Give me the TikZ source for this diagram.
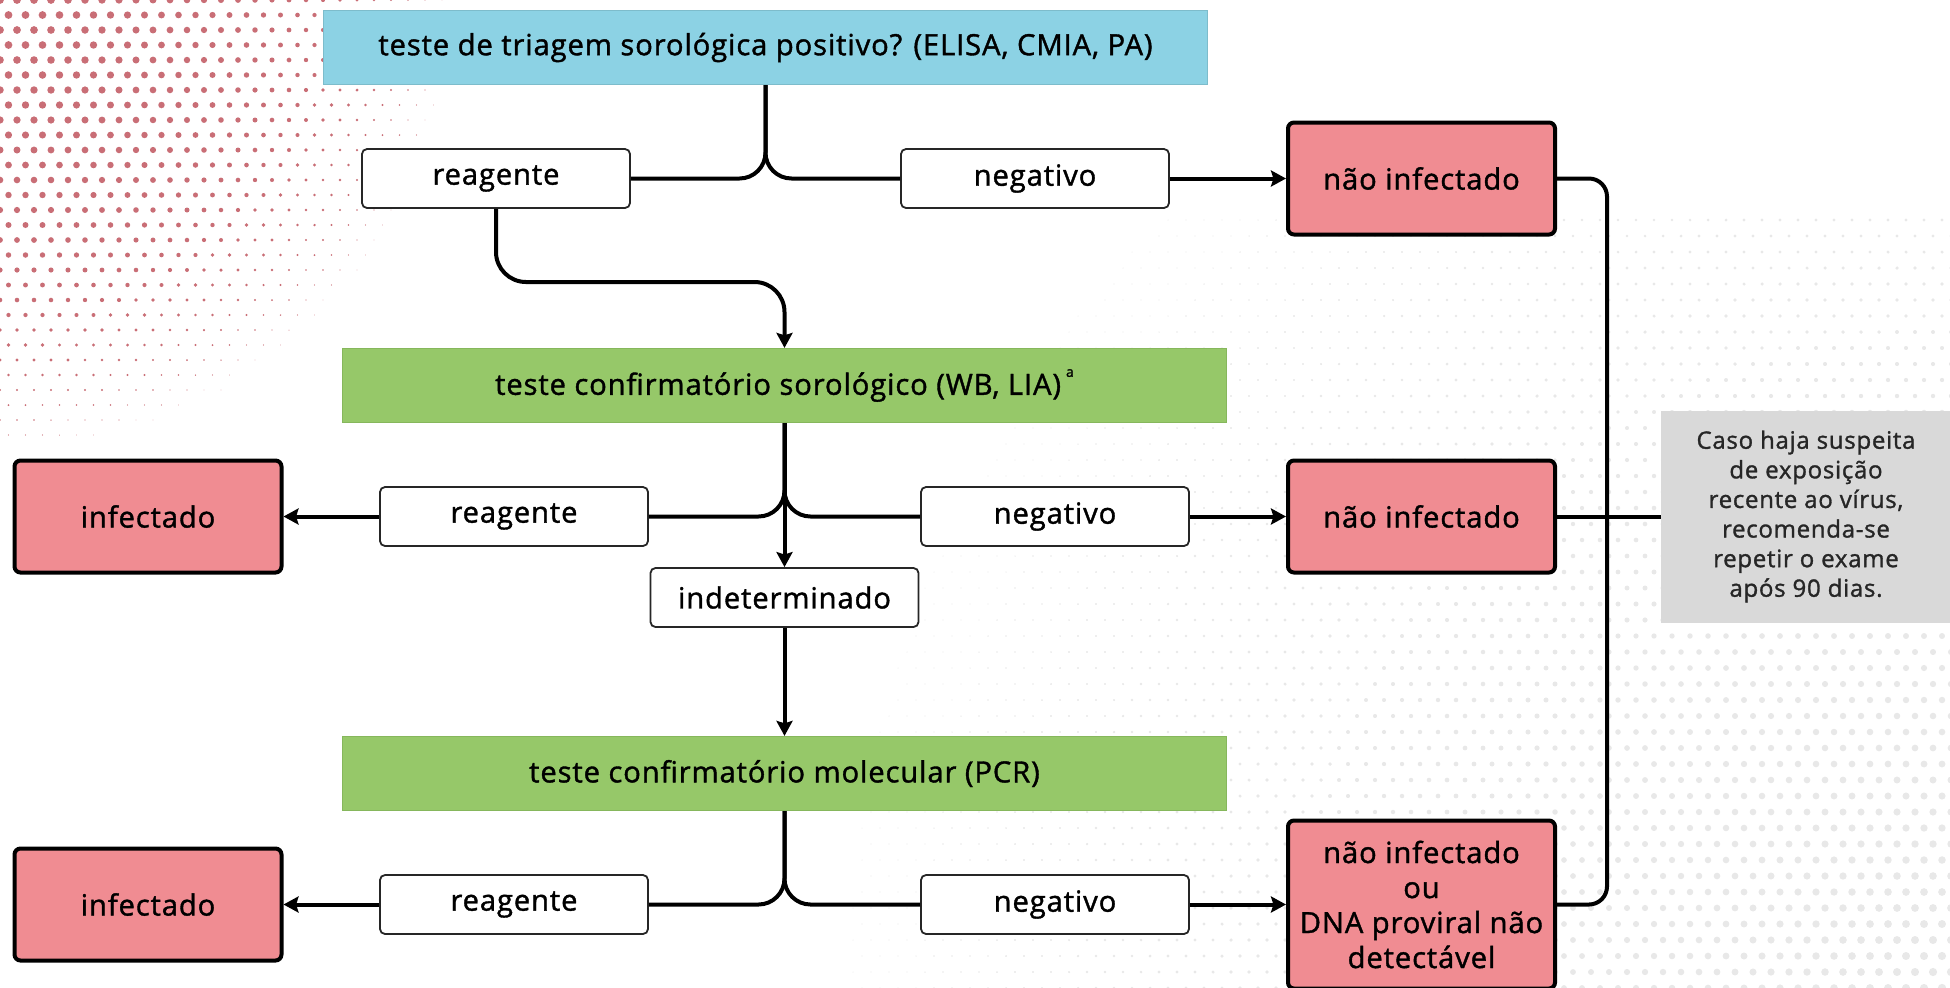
\documentclass[tikz,border=0pt]{standalone}
\usepackage{fontspec}
\setmainfont{Open Sans}[LetterSpace=3,UprightFeatures={FakeBold=1.3}]
\usetikzlibrary{arrows.meta}

\definecolor{triagefill}{HTML}{8CD2E4}
\definecolor{triageedge}{HTML}{7DBCCB}
\definecolor{conffill}{HTML}{96C869}
\definecolor{confedge}{HTML}{86B75C}
\definecolor{outfill}{HTML}{F08C92}
\definecolor{notefill}{HTML}{D9D9D9}
\definecolor{dotred}{HTML}{C96E76}
\definecolor{dotgray}{HTML}{E8E8E8}

\begin{document}
\begin{tikzpicture}[x=0.5pt,y=-0.5pt,
  labelfont/.style={font=\fontsize{14.6}{17.5}\selectfont},
  testbox/.style={labelfont, minimum width=442pt, minimum height=37pt, inner sep=0pt, line width=0.6pt},
  triagebox/.style={testbox, fill=triagefill, draw=triageedge},
  confbox/.style={testbox, fill=conffill, draw=confedge},
  answer/.style={labelfont, fill=white, draw=black!85, line width=0.9pt, rounded corners=2.5pt,
                 minimum width=134pt, minimum height=29.5pt, inner sep=0pt},
  outcome/.style={labelfont, fill=outfill, draw=black, line width=2pt, rounded corners=3pt,
                  minimum width=133.5pt, minimum height=56pt, inner sep=0pt, align=center},
  notebox/.style={fill=notefill, minimum width=145pt, minimum height=106pt, inner sep=0pt,
                  align=center, text=black!85, font=\fontsize{12}{14.8}\selectfont},
  link/.style={line width=2pt, line join=round, black},
  tip/.style={-{Stealth[length=7.5pt,width=8pt,inset=1.2pt]}}
]
\useasboundingbox (0,0) rectangle (1950,987);
\clip (0,0) rectangle (1950,987);

% halftone dots, red in the upper left corner
\foreach \j in {0,...,32}{
  \foreach \i in {0,...,29}{
    \pgfmathsetmacro{\xx}{\i*17+mod(\j,2)*8.5}
    \pgfmathsetmacro{\yy}{\j*15}
    \pgfmathsetmacro{\rr}{3.9*(1-(\xx/470)^2-(\yy/470)^2)}
    \ifdim\rr pt>0.35pt \fill[dotred] (\xx,\yy) circle[radius=\rr*0.5pt]; \fi
  }
}
% halftone dots, light grey towards the lower right corner
\foreach \j in {0,...,48}{
  \foreach \i in {0,...,70}{
    \pgfmathsetmacro{\xx}{700+\i*18+mod(\j,2)*9}
    \pgfmathsetmacro{\yy}{220+\j*16}
    \pgfmathsetmacro{\dd}{sqrt(((1950-\xx)/1250)^2+((987-\yy)/1250)^2)}
    \pgfmathsetmacro{\rr}{4.2*(1-\dd)}
    \ifdim\rr pt>0.5pt \fill[dotgray] (\xx,\yy) circle[radius=\rr*0.5pt]; \fi
  }
}

% test steps
\node[triagebox] (triage) at (765.5,47.5) {teste de triagem sorológica positivo? (ELISA, CMIA, PA)};
\node[confbox] (conf) at (784.5,385.5) {teste confirmatório sorológico (WB, LIA)\hspace{2.5pt}\raisebox{9pt}{\fontsize{7}{7}\selectfont a}};
\node[confbox] (pcr) at (784.5,773.5) {teste confirmatório molecular (PCR)};

% answers
\node[answer] (r1) at (496,178.5) {reagente};
\node[answer] (n1) at (1035,178.5) {negativo};
\node[answer] (r2) at (514,516.5) {reagente};
\node[answer] (n2) at (1055,516.5) {negativo};
\node[answer] (ind) at (784.5,597.5) {indeterminado};
\node[answer] (r3) at (514,904.5) {reagente};
\node[answer] (n3) at (1055,904.5) {negativo};

% outcomes
\node[outcome] (ni1) at (1421.5,178.5) {não infectado};
\node[outcome] (inf1) at (148,516.5) {infectado};
\node[outcome] (ni2) at (1421.5,516.5) {não infectado};
\node[outcome] (inf2) at (148,904.5) {infectado};
\node[outcome, minimum height=84pt] (ni3) at (1421.5,904.5) {não infectado\\ou\\DNA proviral não\\detectável};

% note
\node[notebox] (note) at (1806,516.5) {Caso haja suspeita\\de exposição\\recente ao vírus,\\recomenda-se\\repetir o exame\\após 90 dias.};

% waypoints
\coordinate (k1) at (784.5,282);
\coordinate (b1) at (1607,178.5);
\coordinate (b2) at (1607,904.5);

% screening branches
\draw[link, rounded corners=13pt] (r1.east) -| (triage.south);
\draw[link, rounded corners=13pt] (n1.west) -| (triage.south);
\draw[link, tip] (n1.east) -- (ni1.west);
\draw[link, tip, rounded corners=15pt] (r1.south) |- (k1) -- (conf.north);

% serological confirmation branches
\draw[link, rounded corners=13pt] (r2.east) -| (conf.south);
\draw[link, rounded corners=13pt] (n2.west) -| (conf.south);
\draw[link, tip] (conf.south) -- (ind.north);
\draw[link, tip] (r2.west) -- (inf1.east);
\draw[link, tip] (n2.east) -- (ni2.west);
\draw[link, tip] (ind.south) -- (pcr.north);

% molecular confirmation branches
\draw[link, rounded corners=13pt] (r3.east) -| (pcr.south);
\draw[link, rounded corners=13pt] (n3.west) -| (pcr.south);
\draw[link, tip] (r3.west) -- (inf2.east);
\draw[link, tip] (n3.east) -- (ni3.west);

% negative outcomes to the note
\draw[link, rounded corners=9pt] (ni1.east) -- (b1) -- (b2) -- (ni3.east);
\draw[link] (ni2.east) -- (note.west);
\end{tikzpicture}
\end{document}
